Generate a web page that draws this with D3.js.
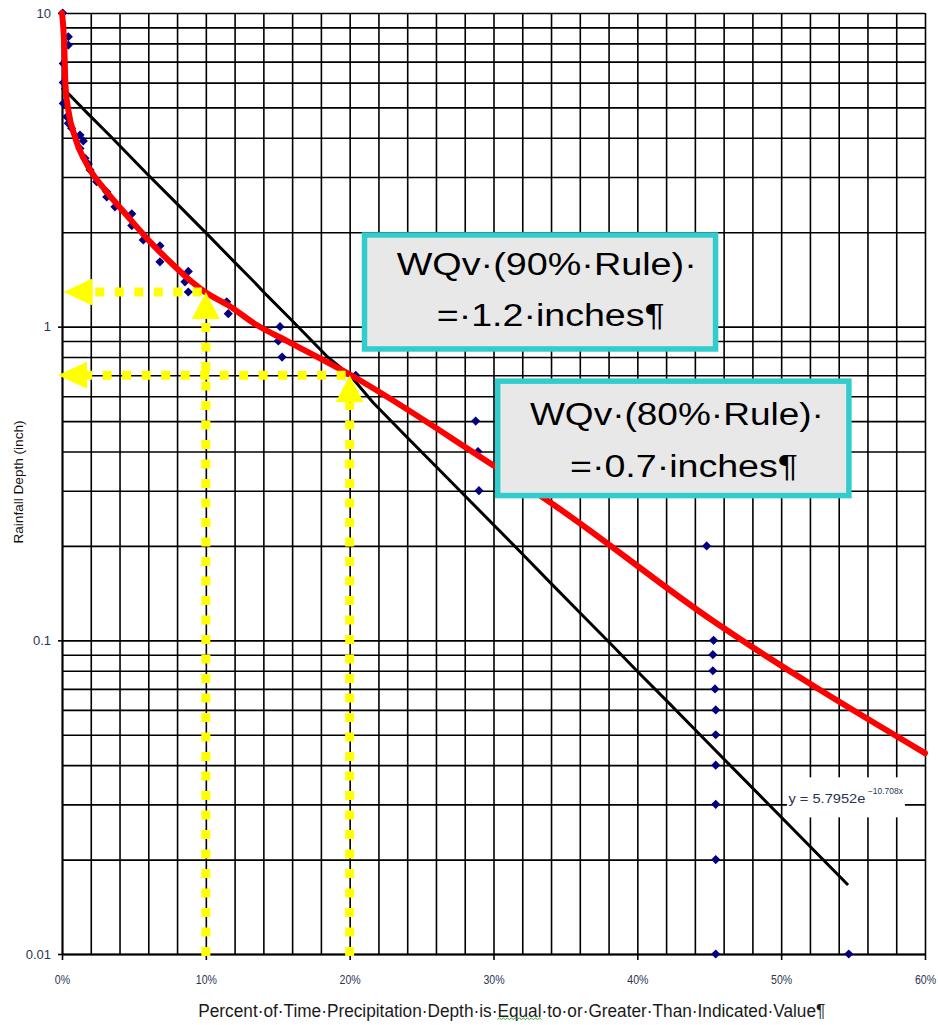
<!DOCTYPE html>
<html><head><meta charset="utf-8">
<script src="https://cdn.jsdelivr.net/npm/d3@7"></script>
<style>html,body{margin:0;padding:0;background:#fff}svg{display:block}</style>
</head><body>
<svg id="chart" width="938" height="1025"></svg>
<script>
// ---------------- DATA ----------------
const xTickValues = [0, 10, 20, 30, 40, 50, 60];          // percent
const yTickValues = [0.01, 0.1, 1, 10];                    // inches
const yAxisTitle = "Rainfall Depth (inch)";
const xAxisTitle = "Percent·of·Time·Precipitation·Depth·is·Equal·to·or·Greater·Than·Indicated·Value¶";

// observed daily rainfall (percent exceeded, depth in inches)
const obsPct   = [0.05, 0.44, 0.44, 0.09, 0.09, 0.09, 0.33, 0.44, 0.67, 1.25, 1.48, 1.25, 1.60, 1.83, 1.95, 2.41, 3.11, 3.11, 3.68, 4.85, 4.85, 5.65, 6.81, 6.81, 8.78, 8.55, 8.78, 11.45, 11.56, 15.16, 15.04, 15.3, 20.42, 28.76, 28.92, 28.99, 44.82, 45.3, 45.25, 45.25, 45.4, 45.45, 45.45, 45.45, 45.45, 45.45, 45.45, 54.7];
const obsDepth = [10.0, 8.4, 7.9, 6.9, 6.0, 5.15, 4.67, 4.45, 4.29, 4.08, 3.91, 3.70, 3.44, 3.30, 3.16, 2.90, 2.69, 2.59, 2.41, 2.29, 2.10, 1.89, 1.81, 1.61, 1.50, 1.39, 1.29, 1.20, 1.10, 1.00, 0.90, 0.80, 0.70, 0.50, 0.40, 0.30, 0.20, 0.10, 0.09, 0.08, 0.07, 0.06, 0.05, 0.04, 0.03, 0.02, 0.01, 0.01];

// exponential trendline (black)
const trendPct   = [0, 0.67, 1.83, 3.34, 4.15, 5.89, 8.09, 10.06, 12.03, 13.42, 14.23, 15.85, 18.4, 20.02, 21.64, 23.97, 26.28, 28.37, 31.84, 33.93, 36.01, 38.33, 39.96, 42.27, 44.36, 46.44, 54.65];
const trendDepth = [5.78, 5.40, 4.76, 4.06, 3.72, 3.08, 2.44, 1.98, 1.60, 1.38, 1.26, 1.062, 0.806, 0.700, 0.572, 0.445, 0.348, 0.278, 0.192, 0.153, 0.1225, 0.0956, 0.080, 0.0626, 0.050, 0.040, 0.0166];
const trendEquation = "y = 5.7952e";
const trendExponent = "−10.708x";

// red fitted curve
const curvePct   = [0, 0.17, 0.24, 0.44, 0.9, 1.83, 2.99, 4.38, 6.24, 7.63, 9.02, 9.94, 11.56, 13.42, 15.85, 20.1, 29.76, 33.7, 45.3, 60];
const curveDepth = [10, 7.6, 5.9, 4.9, 4.03, 3.23, 2.73, 2.30, 1.84, 1.59, 1.39, 1.29, 1.17, 1.02, 0.89, 0.70, 0.367, 0.28, 0.115, 0.0437];

// WQv rules
const rulePct   = [10, 20];
const ruleDepth = [1.29, 0.70];
const ruleLine1 = ["WQv·(90%·Rule)·", "WQv·(80%·Rule)·"];
const ruleLine2 = ["=·1.2·inches¶", "=·0.7·inches¶"];

// ---------------- LAYOUT ----------------
const W = 938, H = 1025;
const m = {left: 62, right: 925, top: 13, bottom: 954};
const FONT = "Liberation Sans, Arial, Helvetica, sans-serif";
const tickColor = "#2a3552";
const boxLayout = [
  {x0: 20.84, x1: 45.63, top: 2.0, bottom: 0.832, l1: [35, 43, 300], l2: [75, 94, 228]},
  {x0: 30.1,  x1: 54.9,  top: 0.684, bottom: 0.2836, l1: [35, 47, 294], l2: [75, 98.5, 228]}
];
const hTipOffset = [1.5, -4];

const x = d3.scaleLinear().domain([0, 60]).range([m.left, m.right]);
const y = d3.scaleLog().domain([0.01, 10]).range([m.bottom, m.top]);

const svg = d3.select("#chart");
svg.append("rect").attr("width", W).attr("height", H).attr("fill", "#fff");

// ---------------- GRID ----------------
const yGridValues = [];
[0.01, 0.1, 1].forEach(dec => { for (let k = 1; k <= 9; k++) yGridValues.push(+(k * dec).toPrecision(3)); });
yGridValues.push(10);
const xGridValues = d3.range(0, 61, 2);

const gGy = svg.append("g").attr("transform", `translate(${m.left},0)`)
  .call(d3.axisLeft(y).tickValues(yGridValues).tickSize(-(m.right - m.left)).tickFormat(""));
gGy.select(".domain").remove();
gGy.selectAll("line").attr("stroke", "#000").attr("stroke-width", 1.6);

const gGx = svg.append("g").attr("transform", `translate(0,${m.bottom})`)
  .call(d3.axisBottom(x).tickValues(xGridValues).tickSize(-(m.bottom - m.top)).tickFormat(""));
gGx.select(".domain").remove();
gGx.selectAll("line").attr("stroke", "#000").attr("stroke-width", 1.6);

// ---------------- AXES ----------------
const gx = svg.append("g").attr("transform", `translate(0,${m.bottom})`)
  .call(d3.axisBottom(x).tickValues(xTickValues).tickFormat(d => d + "%").tickSizeInner(6).tickSizeOuter(0).tickPadding(15));
gx.select(".domain").attr("stroke", "#000").attr("stroke-width", 1.8);
gx.selectAll(".tick line").attr("stroke", "#000").attr("stroke-width", 1.6);
gx.selectAll("text").attr("font-family", FONT).attr("font-size", 12).attr("fill", tickColor)
  .each(function () { const w = this.getComputedTextLength(); d3.select(this).attr("textLength", w * 0.88).attr("lengthAdjust", "spacingAndGlyphs"); });

const gy = svg.append("g").attr("transform", `translate(${m.left},0)`)
  .call(d3.axisLeft(y).tickValues(yTickValues).tickFormat(d => String(d)).tickSizeInner(4).tickSizeOuter(0).tickPadding(7));
gy.select(".domain").attr("stroke", "#000").attr("stroke-width", 1.8);
gy.selectAll(".tick line").attr("stroke", "#000").attr("stroke-width", 1.6);
gy.selectAll("text").attr("font-family", FONT).attr("font-size", 13).attr("fill", tickColor);

// axis titles
svg.append("text").attr("transform", "translate(22.5,482) rotate(-90)")
  .attr("text-anchor", "middle").attr("font-family", FONT).attr("font-size", 12.5).attr("fill", "#111")
  .attr("textLength", 123).attr("lengthAdjust", "spacingAndGlyphs").text(yAxisTitle);

const xt = svg.append("text").attr("x", 198.3).attr("y", 1016.5)
  .attr("font-family", FONT).attr("font-size", 17.5).attr("fill", "#1a1a1a")
  .attr("textLength", 627).attr("lengthAdjust", "spacingAndGlyphs").text(xAxisTitle);
// spell-check squiggle under "Equal"
(function () {
  const node = xt.node();
  const i0 = xAxisTitle.indexOf("Equal");
  try {
    const s = node.getStartPositionOfChar(i0).x, e = node.getEndPositionOfChar(i0 + 4).x;
    const yb = 1019.5; let d = `M${s},${yb}`; let up = true;
    for (let px = s + 2; px <= e; px += 2) { d += `L${px},${up ? yb - 1.5 : yb}`; up = !up; }
    svg.append("path").attr("d", d).attr("fill", "none").attr("stroke", "#3aa63a").attr("stroke-width", 1);
  } catch (err) {}
})();

// ---------------- SERIES ----------------
const sq = d3.symbol().type(d3.symbolSquare).size(42);
svg.append("g").selectAll("path").data(obsPct.map((p, i) => [p, obsDepth[i]])).join("path")
  .attr("d", sq).attr("fill", "#000080")
  .attr("transform", d => `translate(${x(d[0])},${y(d[1])}) rotate(45)`);

const lineGen = d3.line().x(d => x(d[0])).y(d => y(d[1]));
svg.append("path").datum(trendPct.map((p, i) => [p, trendDepth[i]]))
  .attr("d", lineGen).attr("fill", "none").attr("stroke", "#000").attr("stroke-width", 3).attr("stroke-linejoin", "round");

svg.append("path").datum(curvePct.map((p, i) => [p, curveDepth[i]]))
  .attr("d", lineGen.curve(d3.curveMonotoneX)).attr("fill", "none").attr("stroke", "#ff0000")
  .attr("stroke-width", 6).attr("stroke-linecap", "round").attr("stroke-linejoin", "round");

// ---------------- YELLOW RULE MARKERS ----------------
const yellow = "#ffff00";
const gY = svg.append("g");
rulePct.forEach((p, i) => {
  const px = x(p), py = y(ruleDepth[i]);
  const aLen = 27, aHalf = 14;
  gY.append("line").attr("x1", px).attr("x2", px).attr("y1", y(0.01) + 2).attr("y2", py + aLen)
    .attr("stroke", yellow).attr("stroke-width", 9).attr("stroke-dasharray", "9,10.5");
  gY.append("path").attr("d", `M${px},${py}L${px - aHalf},${py + aLen}L${px + aHalf},${py + aLen}Z`).attr("fill", yellow);
  const tipX = x(0) + hTipOffset[i];
  gY.append("line").attr("x1", px).attr("x2", tipX + 29).attr("y1", py).attr("y2", py)
    .attr("stroke", yellow).attr("stroke-width", 9).attr("stroke-dasharray", "9,10.5").attr("stroke-dashoffset", -4);
  gY.append("path").attr("d", `M${tipX},${py}L${tipX + 29},${py - 13.5}L${tipX + 29},${py + 13.5}Z`).attr("fill", yellow);
});

// ---------------- BOXES ----------------
boxLayout.forEach((b, i) => {
  const bx0 = x(b.x0), bx1 = x(b.x1), by0 = y(b.top), by1 = y(b.bottom);
  const sw = 5.5;
  svg.append("rect").attr("x", bx0 + sw / 2).attr("y", by0 + sw / 2)
    .attr("width", bx1 - bx0 - sw).attr("height", by1 - by0 - sw)
    .attr("fill", "#e8e8e8").attr("stroke", "#33cccc").attr("stroke-width", sw);
  svg.append("text").attr("x", bx0 + b.l1[0]).attr("y", by0 + b.l1[1])
    .attr("font-family", FONT).attr("font-size", 31).attr("fill", "#000")
    .attr("textLength", b.l1[2]).attr("lengthAdjust", "spacingAndGlyphs").text(ruleLine1[i]);
  svg.append("text").attr("x", bx0 + b.l2[0]).attr("y", by0 + b.l2[1])
    .attr("font-family", FONT).attr("font-size", 31).attr("fill", "#000")
    .attr("textLength", b.l2[2]).attr("lengthAdjust", "spacingAndGlyphs").text(ruleLine2[i]);
});

// ---------------- TRENDLINE LABEL ----------------
const lx = x(50.4), ly = y(0.03);
svg.append("rect").attr("x", lx).attr("y", ly - 27).attr("width", 118).attr("height", 40).attr("fill", "#fff");
svg.append("text").attr("x", lx + 1.5).attr("y", ly - 1).attr("font-family", FONT).attr("font-size", 12.5)
  .attr("fill", tickColor).attr("textLength", 77).attr("lengthAdjust", "spacingAndGlyphs").text(trendEquation);
svg.append("text").attr("x", lx + 81).attr("y", ly - 10).attr("font-family", FONT).attr("font-size", 8.5)
  .attr("fill", tickColor).attr("textLength", 35).attr("lengthAdjust", "spacingAndGlyphs").text(trendExponent);
</script>
</body></html>
